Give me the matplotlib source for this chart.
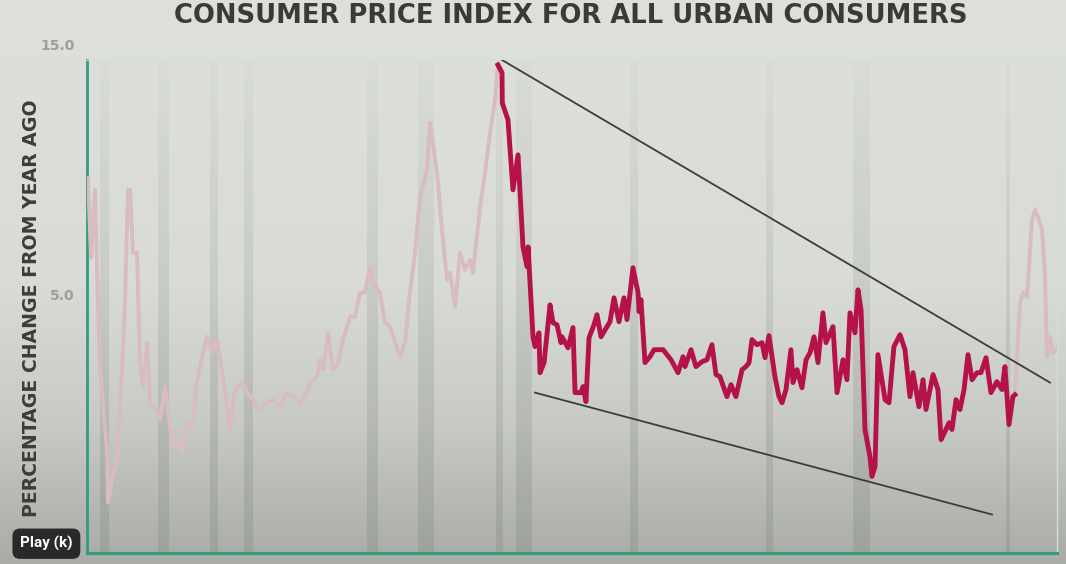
import numpy as np
import matplotlib
matplotlib.use("Agg")
import matplotlib.pyplot as plt
import matplotlib.transforms as mtransforms
from matplotlib.colors import LinearSegmentedColormap, to_rgb

# CPI-U, percent change from year ago
pre_years = [1948.00, 1948.24, 1948.55, 1948.71, 1948.94, 1949.18, 1949.50, 1949.57, 1949.89, 1950.28,
             1950.68, 1950.91, 1951.15, 1951.31, 1951.54, 1951.86, 1952.09, 1952.33, 1952.65, 1952.88,
             1953.43, 1953.67, 1954.06, 1954.30, 1954.69, 1955.09, 1955.40, 1955.80, 1956.19, 1956.58,
             1956.98, 1957.37, 1957.76, 1958.16, 1958.63, 1959.18, 1959.57, 1960.20, 1960.52, 1960.99,
             1961.39, 1962.09, 1962.57, 1963.12, 1963.67, 1964.14, 1964.69, 1965.24, 1965.48, 1966.03,
             1966.27, 1966.50, 1966.90, 1967.29, 1967.69, 1968.08, 1968.63, 1969.02, 1969.42, 1969.81,
             1970.20, 1970.44, 1970.99, 1971.39, 1971.78, 1972.17, 1972.57, 1972.96, 1973.35, 1973.75,
             1974.14, 1974.69, 1974.93, 1975.48, 1975.95, 1976.27, 1976.50, 1976.90, 1977.29, 1977.69,
             1978.08, 1978.31, 1978.87, 1979.26, 1979.65, 1980.05, 1980.28]
pre_vals = [9.98, 6.57, 9.47, 6.06, 1.81, 0.40, -1.72, -3.85, -2.87, -2.02,
            1.81, 4.66, 9.47, 9.47, 6.79, 6.79, 2.11, 1.09, 2.96, 0.40,
            0.11, -0.32, 1.09, -0.02, -1.47, -1.17, -1.72, -0.45, -0.62, 1.26,
            2.36, 3.21, 2.53, 3.09, 1.51, -0.74, 0.96, 1.26, 0.83, 0.53,
            0.11, 0.40, 0.53, 0.23, 0.83, 0.66, 0.40, 0.83, 1.26, 1.51,
            2.23, 1.81, 3.38, 1.81, 2.11, 3.09, 4.06, 4.06, 5.09, 5.09,
            6.15, 5.51, 5.09, 3.81, 3.64, 2.96, 2.36, 2.96, 5.09, 6.79,
            9.17, 10.32, 12.32, 10.19, 7.34, 5.64, 5.94, 4.49, 6.79, 6.06,
            6.49, 5.94, 8.74, 10.19, 11.89, 13.30, 14.79]

hl_years = [1980.28, 1980.60, 1980.62, 1981.07, 1981.46, 1981.86, 1982.25, 1982.57, 1982.65, 1983.04,
            1983.20, 1983.51, 1983.59, 1983.91, 1984.38, 1984.61, 1984.93, 1985.24, 1985.32, 1985.80,
            1986.19, 1986.35, 1986.82, 1986.98, 1987.21, 1987.45, 1987.84, 1988.08, 1988.39, 1989.10,
            1989.42, 1989.81, 1990.20, 1990.44, 1990.91, 1991.31, 1991.39, 1991.54, 1991.86, 1992.25,
            1992.57, 1993.28, 1993.91, 1994.46, 1994.85, 1995.01, 1995.48, 1995.87, 1996.35, 1996.74,
            1997.13, 1997.45, 1997.76, 1998.31, 1998.63, 1999.02, 1999.50, 1999.81, 2000.05, 2000.28,
            2000.68, 2001.07, 2001.31, 2001.62, 2002.09, 2002.41, 2002.65, 2002.96, 2003.35, 2003.51,
            2003.83, 2004.22, 2004.54, 2004.85, 2005.17, 2005.48, 2005.87, 2006.11, 2006.66, 2006.98,
            2007.45, 2007.76, 2008.00, 2008.39, 2008.63, 2008.87, 2009.18, 2009.57, 2009.73, 2009.97,
            2010.20, 2010.76, 2011.07, 2011.46, 2011.94, 2012.33, 2012.72, 2012.96, 2013.43, 2013.75,
            2013.98, 2014.54, 2014.93, 2015.17, 2015.48, 2015.80, 2016.03, 2016.35, 2016.66, 2016.98,
            2017.29, 2017.61, 2018.00, 2018.31, 2018.71, 2019.10, 2019.57, 2019.97, 2020.20, 2020.52,
            2020.83, 2020.99]
hl_vals = [14.79, 14.45, 13.17, 12.45, 9.47, 10.96, 7.04, 6.19, 7.04, 3.21,
           2.79, 3.38, 1.68, 2.11, 4.57, 3.81, 3.72, 2.96, 3.21, 2.74,
           3.60, 0.83, 0.83, 1.09, 0.45, 3.17, 3.72, 4.15, 3.21, 3.85,
           4.87, 3.85, 4.87, 3.94, 6.15, 5.09, 4.28, 4.79, 2.11, 2.36,
           2.66, 2.66, 2.23, 1.68, 2.36, 1.94, 2.66, 1.94, 2.15, 2.23,
           2.87, 1.60, 1.51, 0.66, 1.17, 0.66, 1.81, 1.94, 2.11, 3.09,
           2.87, 2.96, 2.32, 3.26, 1.51, 0.66, 0.40, 0.96, 2.66, 1.26,
           1.81, 1.04, 2.23, 2.53, 3.21, 2.11, 4.23, 2.96, 3.64, 0.83,
           2.23, 1.38, 4.23, 3.38, 5.21, 4.36, -0.74, -1.89, -2.74, -2.32,
           2.45, 0.53, 0.40, 2.79, 3.30, 2.66, 0.66, 1.68, 0.23, 1.38,
           0.11, 1.60, 0.96, -1.17, -0.83, -0.45, -0.74, 0.53, 0.11, 0.96,
           2.45, 1.38, 1.68, 1.68, 2.32, 0.83, 1.30, 0.96, 1.94, -0.53,
           0.66, 0.74]

post_years = [2020.99, 2021.39, 2021.62, 2021.94, 2022.33, 2022.57, 2022.80, 2023.12, 2023.35, 2023.51,
              2023.75, 2023.98, 2024.38]
post_vals = [0.74, 4.66, 5.09, 4.91, 8.19, 8.62, 8.32, 7.77, 5.94, 2.36,
             3.21, 2.53, 2.79]

# recessions (shaded bands)
rec_start = [1948.94, 1953.50, 1957.60, 1960.30, 1970.00, 1974.00, 1980.10, 1981.70, 1990.70, 2001.40, 2008.20, 2020.30]
rec_end = [1949.57, 1954.30, 1958.20, 1961.00, 1970.80, 1975.20, 1980.60, 1982.90, 1991.30, 2001.90, 2009.50, 2020.60]

# wedge trendlines
upper_x = [1980.60, 2023.75]
upper_y = [15.0, 1.26]
lower_x = [1983.20, 2019.18]
lower_y = [0.83, -4.36]

ytick_vals = [5.0, 15.0]
ytick_labels = ["5.0", "15.0"]

XMIN, XMAX = 1947.92, 2024.3
YMIN, YMAX = -6.0, 15.0

fig = plt.figure(figsize=(10.66, 5.64), dpi=100)

# background gradient over whole figure
bg = fig.add_axes([0, 0, 1, 1], zorder=-10)
bg_cmap = LinearSegmentedColormap.from_list(
    "bg", [(0.0, "#a9aca6"), (0.25, "#c8cbc5"), (0.5, "#d8dbd6"), (1.0, "#dde0db")])
bg.imshow(np.linspace(0, 1, 256).reshape(-1, 1), cmap=bg_cmap, aspect="auto",
          origin="lower", extent=(0, 1, 0, 1))
bg.set_axis_off()

ax = fig.add_axes([87 / 1066, 1 - 553 / 564, (1057 - 87) / 1066, (553 - 60) / 564])
ax.set_facecolor("none")

# recession bands, darker toward the bottom
band_rgb = to_rgb("#8a9088")
grad = np.zeros((100, 1, 4))
grad[:, 0, :3] = band_rgb
grad[:, 0, 3] = np.linspace(0.38, 0.04, 100)
for s, e in zip(rec_start, rec_end):
    ax.imshow(grad, extent=(s, e, YMIN, YMAX), aspect="auto", origin="lower", zorder=1)

ax.plot(pre_years, pre_vals, color="#d8bcc1", lw=2.8, solid_joinstyle="round", zorder=3)
ax.plot(post_years, post_vals, color="#d8bcc1", lw=2.8, solid_joinstyle="round", zorder=3)
ax.plot(hl_years, hl_vals, color="#b5124a", lw=3.5, solid_joinstyle="round", zorder=4)

ax.plot(upper_x, upper_y, color="#3b3d39", lw=1.3, zorder=5)
ax.plot(lower_x, lower_y, color="#3b3d39", lw=1.3, zorder=5)

ax.set_xlim(XMIN, XMAX)
ax.set_ylim(YMIN, YMAX)

for side in ["top", "right"]:
    ax.spines[side].set_color("#cfe0d8")
    ax.spines[side].set_linewidth(1.0)
ax.spines["left"].set_color("#2f9e7e")
ax.spines["left"].set_linewidth(2.0)
ax.spines["bottom"].set_color("#2f9e7e")
ax.spines["bottom"].set_linewidth(2.2)

ax.set_xticks([])
ax.set_yticks(ytick_vals)
ax.set_yticklabels(ytick_labels, fontsize=10, fontweight="bold", color="#9c9e9a", family="DejaVu Sans")
ax.tick_params(axis="y", length=0, pad=9)
# top label sits a bit above the frame
lbl = ax.get_yticklabels()[1]
lbl.set_transform(lbl.get_transform() + mtransforms.ScaledTranslation(0, 15 / 100, fig.dpi_scale_trans))

fig.text(0.535, 0.972, "CONSUMER PRICE INDEX FOR ALL URBAN CONSUMERS", ha="center", va="center",
         fontsize=18.6, fontweight="bold", family="DejaVu Sans", color="#3a3b38")
fig.text(0.030, 0.454, "PERCENTAGE CHANGE FROM YEAR AGO", ha="center", va="center", rotation=90,
         fontsize=13.6, fontweight="bold", family="DejaVu Sans", color="#3c3d3a")

fig.text(0.0435, 0.036, "Play (k)", ha="center", va="center", fontsize=11, fontweight="bold",
         family="Roboto", color="white",
         bbox=dict(boxstyle="round,pad=0.5,rounding_size=0.5", fc="#1e1e1e", ec="none", alpha=0.92))

fig.savefig("out.png", dpi=100)
